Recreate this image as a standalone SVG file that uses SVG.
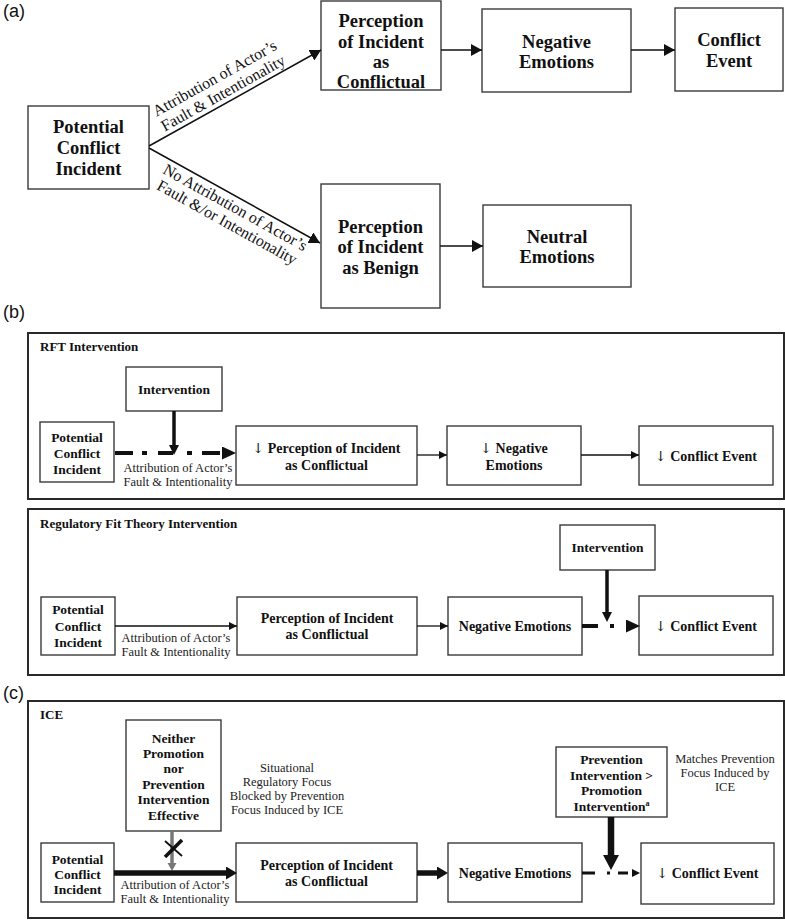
<svg xmlns="http://www.w3.org/2000/svg" width="785" height="920" viewBox="0 0 785 920">
<style>
.box{fill:#fff;stroke:#3a3a3a;stroke-width:1.4}
.panel{fill:none;stroke:#2a2a2a;stroke-width:2}
.tb{font-family:"Liberation Serif","Times New Roman",serif;font-weight:bold;fill:#111;text-anchor:middle}
.big{font-size:18.5px}
.med{font-size:14px}
.sm{font-size:13.5px}
.arr{font-family:"DejaVu Serif","DejaVu Sans",serif;font-weight:normal;font-size:14px;fill:#111}
.ttl{font-family:"Liberation Serif","Times New Roman",serif;font-weight:bold;font-size:13px;fill:#111}
.lab{font-family:"Liberation Serif","Times New Roman",serif;font-size:12.5px;fill:#222;text-anchor:middle}
.note{font-family:"Liberation Serif","Times New Roman",serif;font-size:12.5px;fill:#222;text-anchor:middle}
.diag{font-family:"Liberation Serif","Times New Roman",serif;font-size:16px;fill:#111;text-anchor:middle}
.pl{font-family:"Liberation Sans",Arial,sans-serif;font-size:18px;fill:#111}
.ln{stroke:#111;fill:none}
</style>
<defs>
<marker id="mA" markerUnits="userSpaceOnUse" markerWidth="12" markerHeight="12" refX="11" refY="6" orient="auto"><path d="M0,0 L11,6 L0,12 z" fill="#111"/></marker>
<marker id="mS" markerUnits="userSpaceOnUse" markerWidth="9" markerHeight="9" refX="8" refY="4" orient="auto"><path d="M0,0 L8,4 L0,8 z" fill="#111"/></marker>
<marker id="mV" markerUnits="userSpaceOnUse" markerWidth="11" markerHeight="11" refX="0" refY="5" orient="auto"><path d="M0,0 L10,5 L0,10 z" fill="#111"/></marker>
<marker id="mD" markerUnits="userSpaceOnUse" markerWidth="15" markerHeight="14" refX="0" refY="6.5" orient="auto"><path d="M0,0 L14,6.5 L0,13 z" fill="#111"/></marker>
<marker id="mT" markerUnits="userSpaceOnUse" markerWidth="12" markerHeight="14" refX="0" refY="6.5" orient="auto"><path d="M0,0 L11,6.5 L0,13 z" fill="#111"/></marker>
<marker id="mP" markerUnits="userSpaceOnUse" markerWidth="16" markerHeight="17" refX="0" refY="8" orient="auto"><path d="M0,0 L15,8 L0,16 z" fill="#111"/></marker>
<marker id="mDs" markerUnits="userSpaceOnUse" markerWidth="9" markerHeight="9" refX="0" refY="4" orient="auto"><path d="M0,0 L8,4 L0,8 z" fill="#111"/></marker>
<marker id="mG" markerUnits="userSpaceOnUse" markerWidth="9" markerHeight="10" refX="0" refY="4.5" orient="auto"><path d="M0,0 L8,4.5 L0,9 z" fill="#777"/></marker>
</defs>
<rect width="785" height="920" fill="#fff"/>

<g id="panel-labels">
<text class="pl" x="3" y="17">(a)</text>
<text class="pl" x="3" y="318">(b)</text>
<text class="pl" x="3" y="699">(c)</text>
</g>

<g id="panels">
<rect class="panel" x="28" y="333" width="756" height="166"/>
<text class="ttl" x="40" y="351">RFT Intervention</text>
<rect class="panel" x="28" y="509" width="756" height="166"/>
<text class="ttl" x="40" y="528">Regulatory Fit Theory Intervention</text>
<rect class="panel" x="28" y="701" width="756" height="217"/>
<text class="ttl" x="40" y="719">ICE</text>
</g>

<!-- Part (a) nodes -->
<g id="a-potential"><rect class="box" x="28" y="106" width="121" height="83"/>
<text class="tb big" x="88.5" y="133">Potential</text><text class="tb big" x="88.5" y="154">Conflict</text><text class="tb big" x="88.5" y="175">Incident</text></g>
<g id="a-perception-conflictual"><rect class="box" x="321" y="1" width="120" height="89"/>
<text class="tb big" x="381" y="27">Perception</text><text class="tb big" x="381" y="47.5">of Incident</text><text class="tb big" x="381" y="68">as</text><text class="tb big" x="381" y="88">Conflictual</text></g>
<g id="a-negative"><rect class="box" x="482" y="9" width="149" height="83"/>
<text class="tb big" x="556.5" y="48">Negative</text><text class="tb big" x="556.5" y="68">Emotions</text></g>
<g id="a-conflict-event"><rect class="box" x="675" y="8" width="108" height="83"/>
<text class="tb big" x="729" y="46">Conflict</text><text class="tb big" x="729" y="67">Event</text></g>
<g id="a-perception-benign"><rect class="box" x="321" y="184" width="119" height="124"/>
<text class="tb big" x="380.5" y="233">Perception</text><text class="tb big" x="380.5" y="253">of Incident</text><text class="tb big" x="380.5" y="274">as Benign</text></g>
<g id="a-neutral"><rect class="box" x="483" y="205" width="148" height="82"/>
<text class="tb big" x="557" y="243">Neutral</text><text class="tb big" x="557" y="263">Emotions</text></g>

<!-- Part (b) RFT nodes -->
<g id="rft-intervention"><rect class="box" x="126" y="367" width="96" height="44"/>
<text class="tb sm" x="174" y="394">Intervention</text></g>
<g id="rft-potential"><rect class="box" x="40" y="422" width="74" height="60"/>
<text class="tb sm" x="77" y="442">Potential</text><text class="tb sm" x="77" y="458">Conflict</text><text class="tb sm" x="77" y="474">Incident</text></g>
<g id="rft-perception"><rect class="box" x="236" y="426" width="181" height="59"/>
<text class="tb med" x="326.5" y="453"><tspan class="arr">↓</tspan> Perception of Incident</text><text class="tb med" x="326.5" y="470">as Conflictual</text></g>
<g id="rft-negative"><rect class="box" x="447" y="426" width="134" height="59"/>
<text class="tb med" x="514" y="453"><tspan class="arr">↓</tspan> Negative</text><text class="tb med" x="514" y="470">Emotions</text></g>
<g id="rft-conflict"><rect class="box" x="639" y="426" width="134" height="59"/>
<text class="tb med" x="706" y="461"><tspan class="arr">↓</tspan> Conflict Event</text></g>

<!-- Part (b) Regulatory fit nodes -->
<g id="rf-potential"><rect class="box" x="41" y="597" width="74" height="58"/>
<text class="tb sm" x="78" y="614">Potential</text><text class="tb sm" x="78" y="631">Conflict</text><text class="tb sm" x="78" y="647">Incident</text></g>
<g id="rf-perception"><rect class="box" x="237" y="597" width="180" height="58"/>
<text class="tb med" x="327" y="623">Perception of Incident</text><text class="tb med" x="327" y="639">as Conflictual</text></g>
<g id="rf-negative"><rect class="box" x="448" y="597" width="134" height="58"/>
<text class="tb med" x="515" y="631">Negative Emotions</text></g>
<g id="rf-intervention"><rect class="box" x="560" y="525" width="95" height="45"/>
<text class="tb sm" x="607.5" y="552">Intervention</text></g>
<g id="rf-conflict"><rect class="box" x="639" y="596" width="134" height="59"/>
<text class="tb med" x="706" y="631"><tspan class="arr">↓</tspan> Conflict Event</text></g>

<!-- Part (c) ICE nodes -->
<g id="ice-neither"><rect class="box" x="126" y="720" width="95" height="111"/>
<text class="tb sm" x="173.5" y="743">Neither</text><text class="tb sm" x="173.5" y="758">Promotion</text><text class="tb sm" x="173.5" y="773">nor</text><text class="tb sm" x="173.5" y="789">Prevention</text><text class="tb sm" x="173.5" y="804">Intervention</text><text class="tb sm" x="173.5" y="820">Effective</text></g>
<g id="ice-potential"><rect class="box" x="41" y="843" width="73" height="59"/>
<text class="tb sm" x="77.5" y="864">Potential</text><text class="tb sm" x="77.5" y="879">Conflict</text><text class="tb sm" x="77.5" y="894">Incident</text></g>
<g id="ice-perception"><rect class="box" x="236" y="843" width="181" height="59"/>
<text class="tb med" x="326.5" y="870">Perception of Incident</text><text class="tb med" x="326.5" y="886">as Conflictual</text></g>
<g id="ice-negative"><rect class="box" x="448" y="843" width="134" height="59"/>
<text class="tb med" x="515" y="878">Negative Emotions</text></g>
<g id="ice-prevention"><rect class="box" x="556" y="747" width="111" height="70"/>
<text class="tb sm" x="611.5" y="764">Prevention</text><text class="tb sm" x="611.5" y="780">Intervention &gt;</text><text class="tb sm" x="611.5" y="795">Promotion</text><text class="tb sm" x="611.5" y="811">Intervention<tspan font-size="8px" dy="-5">a</tspan></text></g>
<g id="ice-conflict"><rect class="box" x="641" y="843" width="133" height="61"/>
<text class="tb med" x="707.5" y="878"><tspan class="arr">↓</tspan> Conflict Event</text></g>

<g id="connectors">
<!-- (a) -->
<line class="ln" x1="149" y1="146" x2="321" y2="50" stroke-width="1.5" marker-end="url(#mA)"/>
<line class="ln" x1="149" y1="148" x2="320" y2="243" stroke-width="1.5" marker-end="url(#mA)"/>
<line class="ln" x1="441" y1="50" x2="482" y2="50" stroke-width="1.5" marker-end="url(#mA)"/>
<line class="ln" x1="631" y1="50" x2="675" y2="50" stroke-width="1.5" marker-end="url(#mA)"/>
<line class="ln" x1="440" y1="246" x2="483" y2="246" stroke-width="1.5" marker-end="url(#mA)"/>
<!-- (b) RFT -->
<line class="ln" x1="174" y1="411" x2="174" y2="445" stroke-width="3.5" marker-end="url(#mV)"/>
<line class="ln" x1="115" y1="453" x2="222" y2="453" stroke-width="4" stroke-dasharray="18 9 5 11 15 14 5 10 18 20" marker-end="url(#mD)"/>
<line class="ln" x1="417" y1="455" x2="447" y2="455" stroke-width="1.3" marker-end="url(#mS)"/>
<line class="ln" x1="581" y1="455" x2="639" y2="455" stroke-width="1.3" marker-end="url(#mS)"/>
<!-- (b) Regulatory fit -->
<line class="ln" x1="115" y1="626" x2="237" y2="626" stroke-width="1.3" marker-end="url(#mS)"/>
<line class="ln" x1="417" y1="626" x2="448" y2="626" stroke-width="1.3" marker-end="url(#mS)"/>
<line class="ln" x1="607" y1="570" x2="607" y2="612" stroke-width="3.5" marker-end="url(#mV)"/>
<line class="ln" x1="582" y1="626" x2="626" y2="626" stroke-width="4" stroke-dasharray="16 12 4 30" marker-end="url(#mD)"/>
<!-- (c) ICE -->
<line x1="172" y1="831" x2="172" y2="863" stroke="#777" stroke-width="3.5" marker-end="url(#mG)"/>
<line class="ln" x1="182" y1="840" x2="165" y2="857" stroke-width="3.5"/>
<line class="ln" x1="165" y1="841" x2="182" y2="856" stroke-width="1.8"/>
<line class="ln" x1="114" y1="873" x2="226" y2="873" stroke-width="5.5" marker-end="url(#mT)"/>
<line class="ln" x1="417" y1="873" x2="437" y2="873" stroke-width="5.5" marker-end="url(#mT)"/>
<line class="ln" x1="611" y1="817" x2="611" y2="855" stroke-width="6.5" marker-end="url(#mP)"/>
<line class="ln" x1="582" y1="873" x2="632" y2="873" stroke-width="3" stroke-dasharray="13 12 3 8 10 4" marker-end="url(#mDs)"/>
</g>

<g id="connector-labels">
<g transform="translate(228,102) rotate(-29.2)">
<text class="diag" x="0" y="-22">Attribution of Actor’s</text>
<text class="diag" x="0" y="-5">Fault &amp; Intentionality</text>
</g>
<g transform="translate(240,199) rotate(29.05)">
<text class="diag" x="0" y="15">No Attribution of Actor’s</text>
<text class="diag" x="0" y="32">Fault &amp;/or Intentionality</text>
</g>
<text class="lab" x="178" y="472">Attribution of Actor’s</text>
<text class="lab" x="178" y="486">Fault &amp; Intentionality</text>
<text class="lab" x="176" y="642">Attribution of Actor’s</text>
<text class="lab" x="176" y="656">Fault &amp; Intentionality</text>
<text class="lab" x="175" y="889">Attribution of Actor’s</text>
<text class="lab" x="175" y="903">Fault &amp; Intentionality</text>
<text class="note" x="287" y="772">Situational</text>
<text class="note" x="287" y="786">Regulatory Focus</text>
<text class="note" x="287" y="800">Blocked by Prevention</text>
<text class="note" x="287" y="814">Focus Induced by ICE</text>
<text class="note" x="725" y="763">Matches Prevention</text>
<text class="note" x="725" y="777">Focus Induced by</text>
<text class="note" x="725" y="791">ICE</text>
</g>
</svg>
